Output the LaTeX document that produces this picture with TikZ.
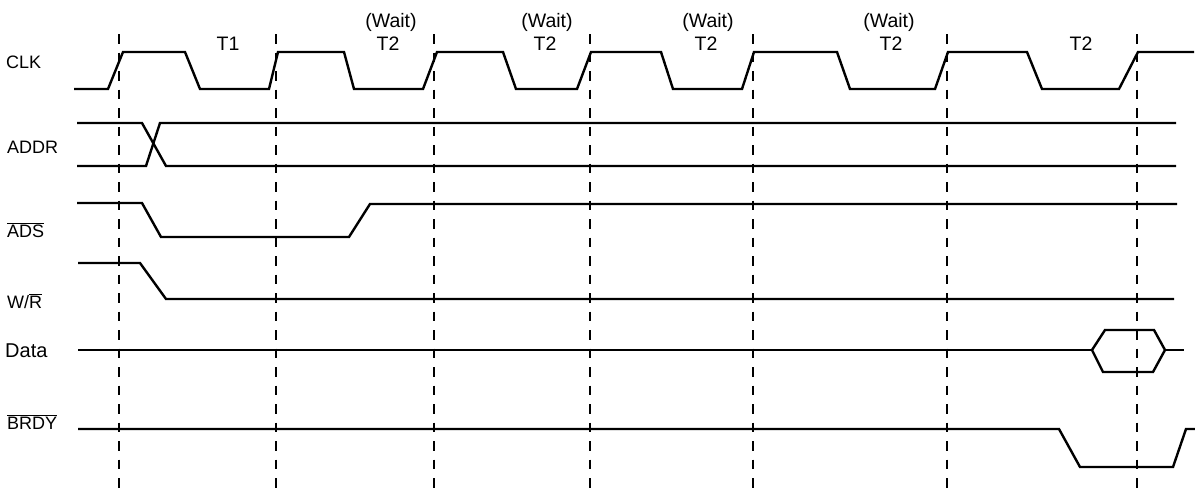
\documentclass[tikz,border=0pt]{standalone}
\usepackage{fontspec}
\setmainfont{Liberation Sans}
\begin{document}
\begin{tikzpicture}[x=1pt,y=-1pt,
  sig/.style={line width=2.4pt, line join=miter, black},
  gridline/.style={line width=2.9pt, dash pattern=on 9.5pt off 9pt, black},
  lbl/.style={inner sep=0pt, anchor=base west, font=\fontsize{18}{20}\selectfont},
  toplbl/.style={inner sep=0pt, anchor=base, font=\fontsize{19.5}{22}\selectfont}]
\useasboundingbox (0,0) rectangle (1195,490);
% dashed clock boundaries
\foreach \x [count=\i] in {119,276,434,590,753,947,1137}
  \draw[gridline] (\x,34) -- (\x,490);
% CLK
\draw[sig] (74,89) -- (108,89) -- (123,52) -- (185,52) -- (200,89) -- (269,89)
  -- (278,52) -- (344,52) -- (354,89) -- (423,89) -- (437,52) -- (503,52)
  -- (516,89) -- (577,89) -- (591,52) -- (661,52) -- (673,89) -- (742,89)
  -- (754,52) -- (837,52) -- (850,89) -- (935,89) -- (948,52) -- (1027,52)
  -- (1042,89) -- (1119,89) -- (1138,52) -- (1194,52);
% ADDR
\draw[sig] (77,123) -- (142,123) -- (166,166) -- (1176,166);
\draw[sig] (77,166) -- (146,166) -- (160,123) -- (1176,123);
% ADS
\draw[sig] (77,203) -- (142,203) -- (161,237) -- (349,237) -- (370,204) -- (1177,204);
% W/R
\draw[sig] (78,263) -- (140,263) -- (166,299) -- (1174,299);
% Data
\draw[sig] (78,350) -- (1092,350);
\draw[sig] (1092,350) -- (1105,330) -- (1154,330) -- (1165,350)
  -- (1153,372) -- (1103,372) -- cycle;
\draw[sig] (1165,350) -- (1184,350);
% BRDY
\draw[sig] (78,429) -- (1059,429) -- (1080,467) -- (1173,467) -- (1186,429) -- (1195,429);
% signal labels
\node[lbl] (clk) at (6,68) {CLK};
\node[lbl] (addr) at (7,153) {ADDR};
\node[lbl] (ads) at (7,237) {$\overline{\mbox{ADS}}$};
\node[lbl] (wr) at (7,308) {W/$\overline{\mbox{R}}$};
\node[lbl, font=\fontsize{20}{22}\selectfont] (data) at (5,357) {Data};
\node[lbl] (brdy) at (7,429) {$\overline{\mbox{BRDY}}$};
% state labels
\node[toplbl] (t1) at (228,50) {T1};
\foreach \x/\n in {391/a,547/b,708/c,889/d}
  \node[toplbl] (wait\n) at (\x,27) {(Wait)};
\foreach \x/\n in {388/a,545/b,706/c,891/d,1081/e}
  \node[toplbl] (t2\n) at (\x,50) {T2};
\end{tikzpicture}
\end{document}
